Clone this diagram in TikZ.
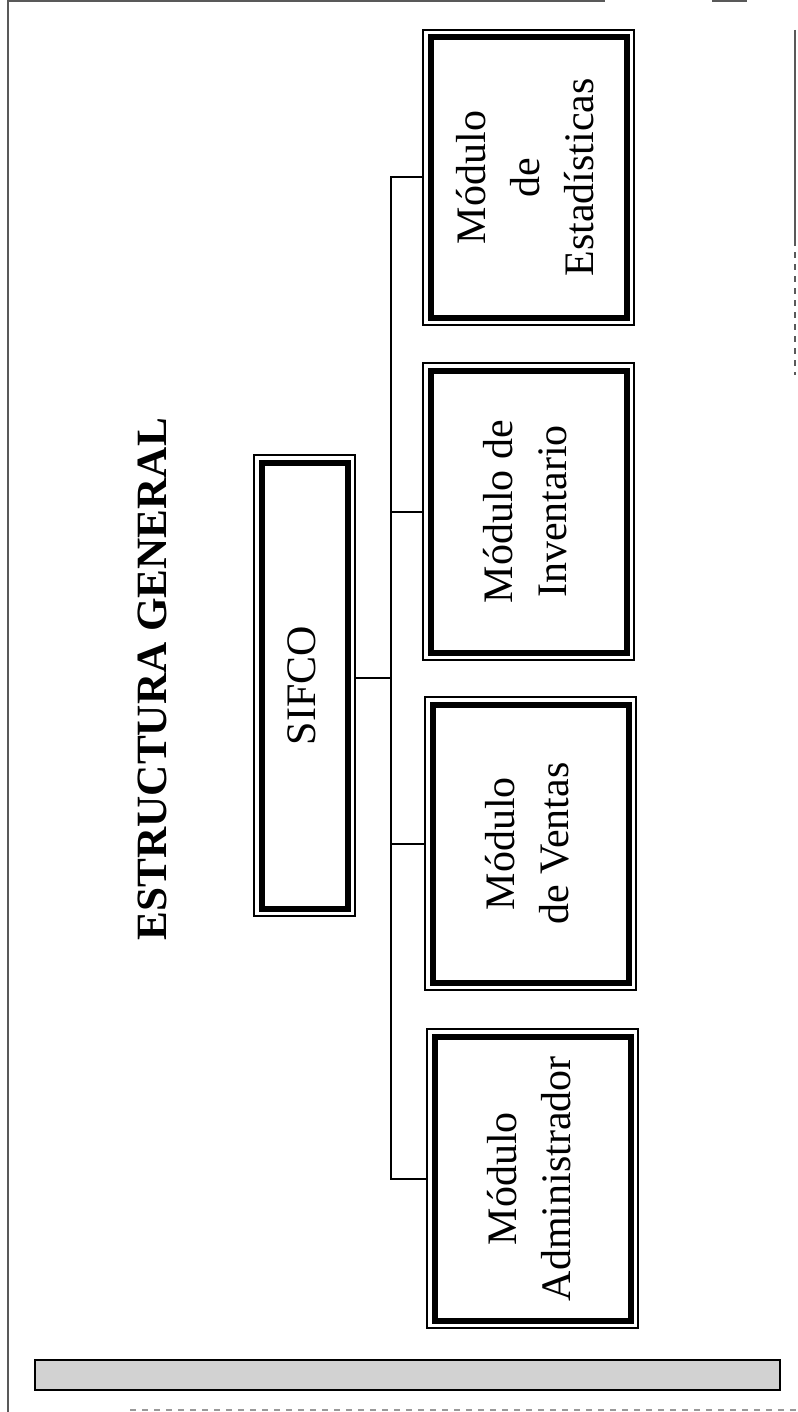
\documentclass[tikz,border=0pt]{standalone}
\usepackage{fontspec}
\setmainfont{Liberation Serif}
\usetikzlibrary{positioning}

% texto girado, leido de abajo hacia arriba
\newcommand{\girado}[1]{\rotatebox{90}{\begin{tabular}{@{}c@{}}#1\end{tabular}}}

\begin{document}
\begin{tikzpicture}[x=0.5pt,y=-0.5pt,
		caja/.style={draw, line width=1pt, rectangle, inner sep=0pt, outer sep=0pt, minimum width=105.5pt, font=\fontsize{21}{27}\selectfont},
		borde/.style={line width=3pt},
		enlace/.style={line width=1pt},
		hoja/.style={line width=0.8pt, black!65}]
	\useasboundingbox (0,0) rectangle (797,1412);
		% marco de la hoja
		\draw[hoja] (8,0) -- (8,1412);
		\draw[hoja] (8,1) -- (605,1) (712,1) -- (747,1);
		\draw[hoja] (795,30) -- (795,240);
		\draw[hoja, dashed] (795,240) -- (795,375);
		\draw[hoja, black!40, dashed] (130,1410) -- (797,1410);

		\node[rotate=90, font=\bfseries\fontsize{21.6}{26}\selectfont, inner sep=0pt] (titulo) at (152,679) {ESTRUCTURA GENERAL};

		\node[caja, minimum width=50.5pt, minimum height=230.5pt] (sifco) at (304.5,685.5) {\girado{SIFCO}};
		\node[caja, minimum height=147.5pt] (estadisticas)  at (528.5,177.5)  {\girado{Módulo\\de\\Estadísticas}};
		\node[caja, minimum height=148.5pt] (inventario)    at (528.5,511.5)  {\girado{Módulo de\\Inventario}};
		\node[caja, minimum height=146.5pt] (ventas)        at (530.5,843.5)  {\girado{Módulo\\de Ventas}};
		\node[caja, minimum height=149.5pt] (administrador) at (532.5,1178.5) {\girado{Módulo\\Administrador}};

		% linea gruesa interior de cada caja
		\foreach \n in {sifco,estadisticas,inventario,ventas,administrador}
			\draw[borde] ([shift={(7.5,7.5)}]\n.north west) rectangle ([shift={(-7.5,-7.5)}]\n.south east);

		\coordinate (bus) at (391,678);
		\draw[enlace] ([yshift=3.75pt]sifco.east) -- (bus);
		\draw[enlace] (estadisticas.west) -| (bus) |- (administrador.west);
		\draw[enlace] (inventario.west) -- (inventario.west -| bus);
		\draw[enlace] (ventas.west) -- (ventas.west -| bus);

		% franja inferior
		\draw[line width=1pt, fill=gray!35] (35,1360) rectangle (780,1390);
\end{tikzpicture}
\end{document}
